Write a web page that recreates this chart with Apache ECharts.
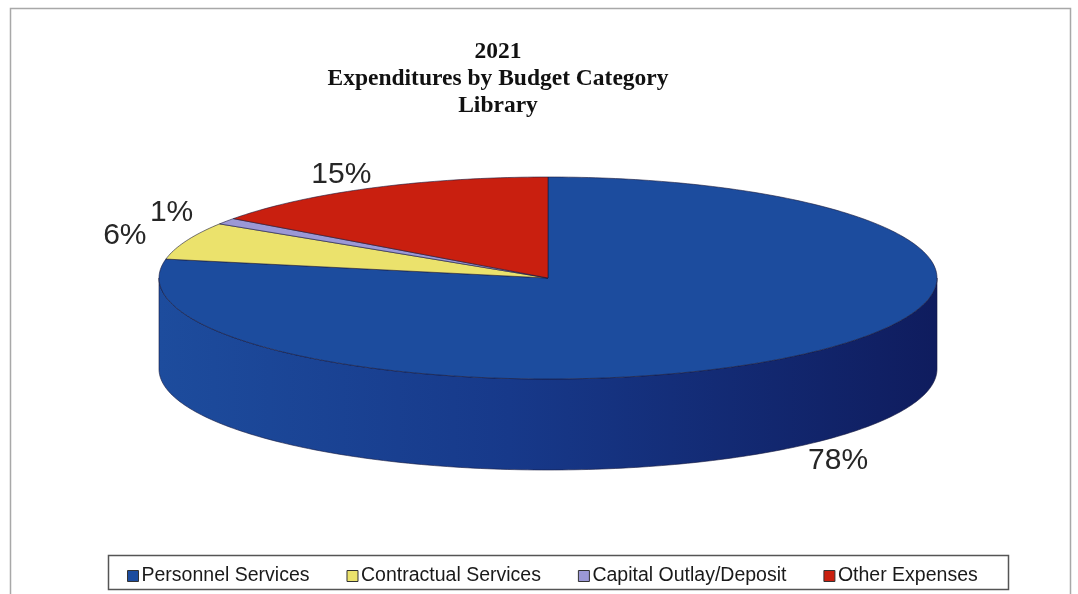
<!DOCTYPE html>
<html>
<head>
<meta charset="utf-8">
<title>2021 Expenditures by Budget Category - Library</title>
<script src="https://cdn.jsdelivr.net/npm/echarts@6/dist/echarts.min.js"></script>
<style>
  html, body { margin: 0; padding: 0; background: #fff; }
  #chart { width: 1078px; height: 594px; }
</style>
</head>
<body>
<div id="chart"></div>
<script>
// data
var categories = ['Personnel Services', 'Contractual Services', 'Capital Outlay/Deposit', 'Other Expenses']
var values = [78, 6, 1, 15]
var colors = ['#1c4c9e', '#ebe26c', '#9b98d6', '#c91f0f']

// pie geometry (pixels)
var CX = 548
var CY = 278
var RX = 389
var RY = 101
var DEPTH = 91

var total = values.reduce(function(s, v) { return s + v }, 0)
var starts = []
var acc = 0
values.forEach(function(v) {
  starts.push(acc / total * 360)
  acc += v
})

// point on the ellipse, angle clockwise from 12 o'clock
function pt(deg, dy) {
  var r = deg * Math.PI / 180
  return [CX + RX * Math.sin(r), CY - RY * Math.cos(r) + (dy || 0)]
}

function arc(a, b, dy) {
  var pts = []
  var n = Math.max(2, Math.ceil(Math.abs(b - a)))
  for (var i = 0; i <= n; i++) {
    pts.push(pt(a + (b - a) * i / n, dy))
  }
  return pts
}

function renderSlice(params, api) {
  var i = params.seriesIndex
  var a0 = starts[i]
  var a1 = a0 + api.value(0) / total * 360
  var children = []

  // front side (only the lower half of the rim is visible)
  var sa = Math.max(a0, 90)
  var sb = Math.min(a1, 270)
  if (sa < sb) {
    var sidePts = arc(sa, sb, 0).concat(arc(sb, sa, DEPTH))
    children.push({
      type: 'polygon',
      shape: { points: sidePts },
      style: {
        fill: new echarts.graphic.LinearGradient(0, 0, 1, 0, [
          { offset: 0, color: i === 0 ? '#1d4c9d' : colors[i] },
          { offset: 0.45, color: i === 0 ? '#17398a' : colors[i] },
          { offset: 1, color: i === 0 ? '#0f1c5e' : colors[i] }
        ]),
        stroke: '#15193f',
        lineWidth: 0.6
      }
    })
  }

  // top face
  var topPts = [[CX, CY]].concat(arc(a0, a1, 0))
  children.push({
    type: 'polygon',
    shape: { points: topPts },
    style: { fill: colors[i], stroke: '#1a1a3a', lineWidth: 0.6 }
  })

  // percentage label outside the slice
  var mid = (a0 + a1) / 2
  var r = mid * Math.PI / 180
  var lx = CX + RX * 1.17 * Math.sin(r)
  var ly = CY - RY * 1.15 * Math.cos(r)
  if (mid > 90 && mid < 270) ly += DEPTH + 2
  children.push({
    type: 'text',
    x: lx,
    y: ly,
    style: {
      text: Math.round(api.value(0) / total * 100) + '%',
      fill: '#262626',
      fontSize: 30,
      fontFamily: 'Liberation Sans, Arial, sans-serif',
      align: 'center',
      verticalAlign: 'middle'
    }
  })

  return { type: 'group', children: children }
}

var chart = echarts.init(document.getElementById('chart'))
chart.setOption({
  backgroundColor: '#fff',
  animation: false,
  title: {
    text: '2021\nExpenditures by Budget Category\nLibrary',
    left: 493,
    top: 33,
    textAlign: 'center',
    textStyle: {
      fontFamily: 'Liberation Serif, Times New Roman, serif',
      fontWeight: 'bold',
      fontSize: 23.5,
      lineHeight: 27,
      color: '#111'
    }
  },
  legend: {
    left: 122,
    top: 561,
    icon: 'rect',
    itemWidth: 11,
    itemHeight: 11,
    itemGap: 37,
    selectedMode: false,
    itemStyle: { borderColor: '#333', borderWidth: 1 },
    textStyle: {
      fontFamily: 'Liberation Sans, Arial, sans-serif',
      fontSize: 19.5,
      color: '#1a1a1a',
      padding: [0, 0, 0, -2]
    },
    data: categories
  },
  graphic: [
    {
      type: 'rect',
      shape: { x: 10.5, y: 8.5, width: 1060, height: 620 },
      style: { fill: 'none', stroke: '#a8a8a8', lineWidth: 1.5 },
      silent: true
    },
    {
      type: 'rect',
      shape: { x: 108.5, y: 555.5, width: 900, height: 34 },
      style: { fill: 'none', stroke: '#555', lineWidth: 1.5 },
      silent: true
    }
  ],
  series: categories.map(function(name, i) {
    return {
      name: name,
      type: 'custom',
      coordinateSystem: 'none',
      itemStyle: { color: colors[i] },
      renderItem: renderSlice,
      data: [[values[i]]]
    }
  })
})
</script>
</body>
</html>
